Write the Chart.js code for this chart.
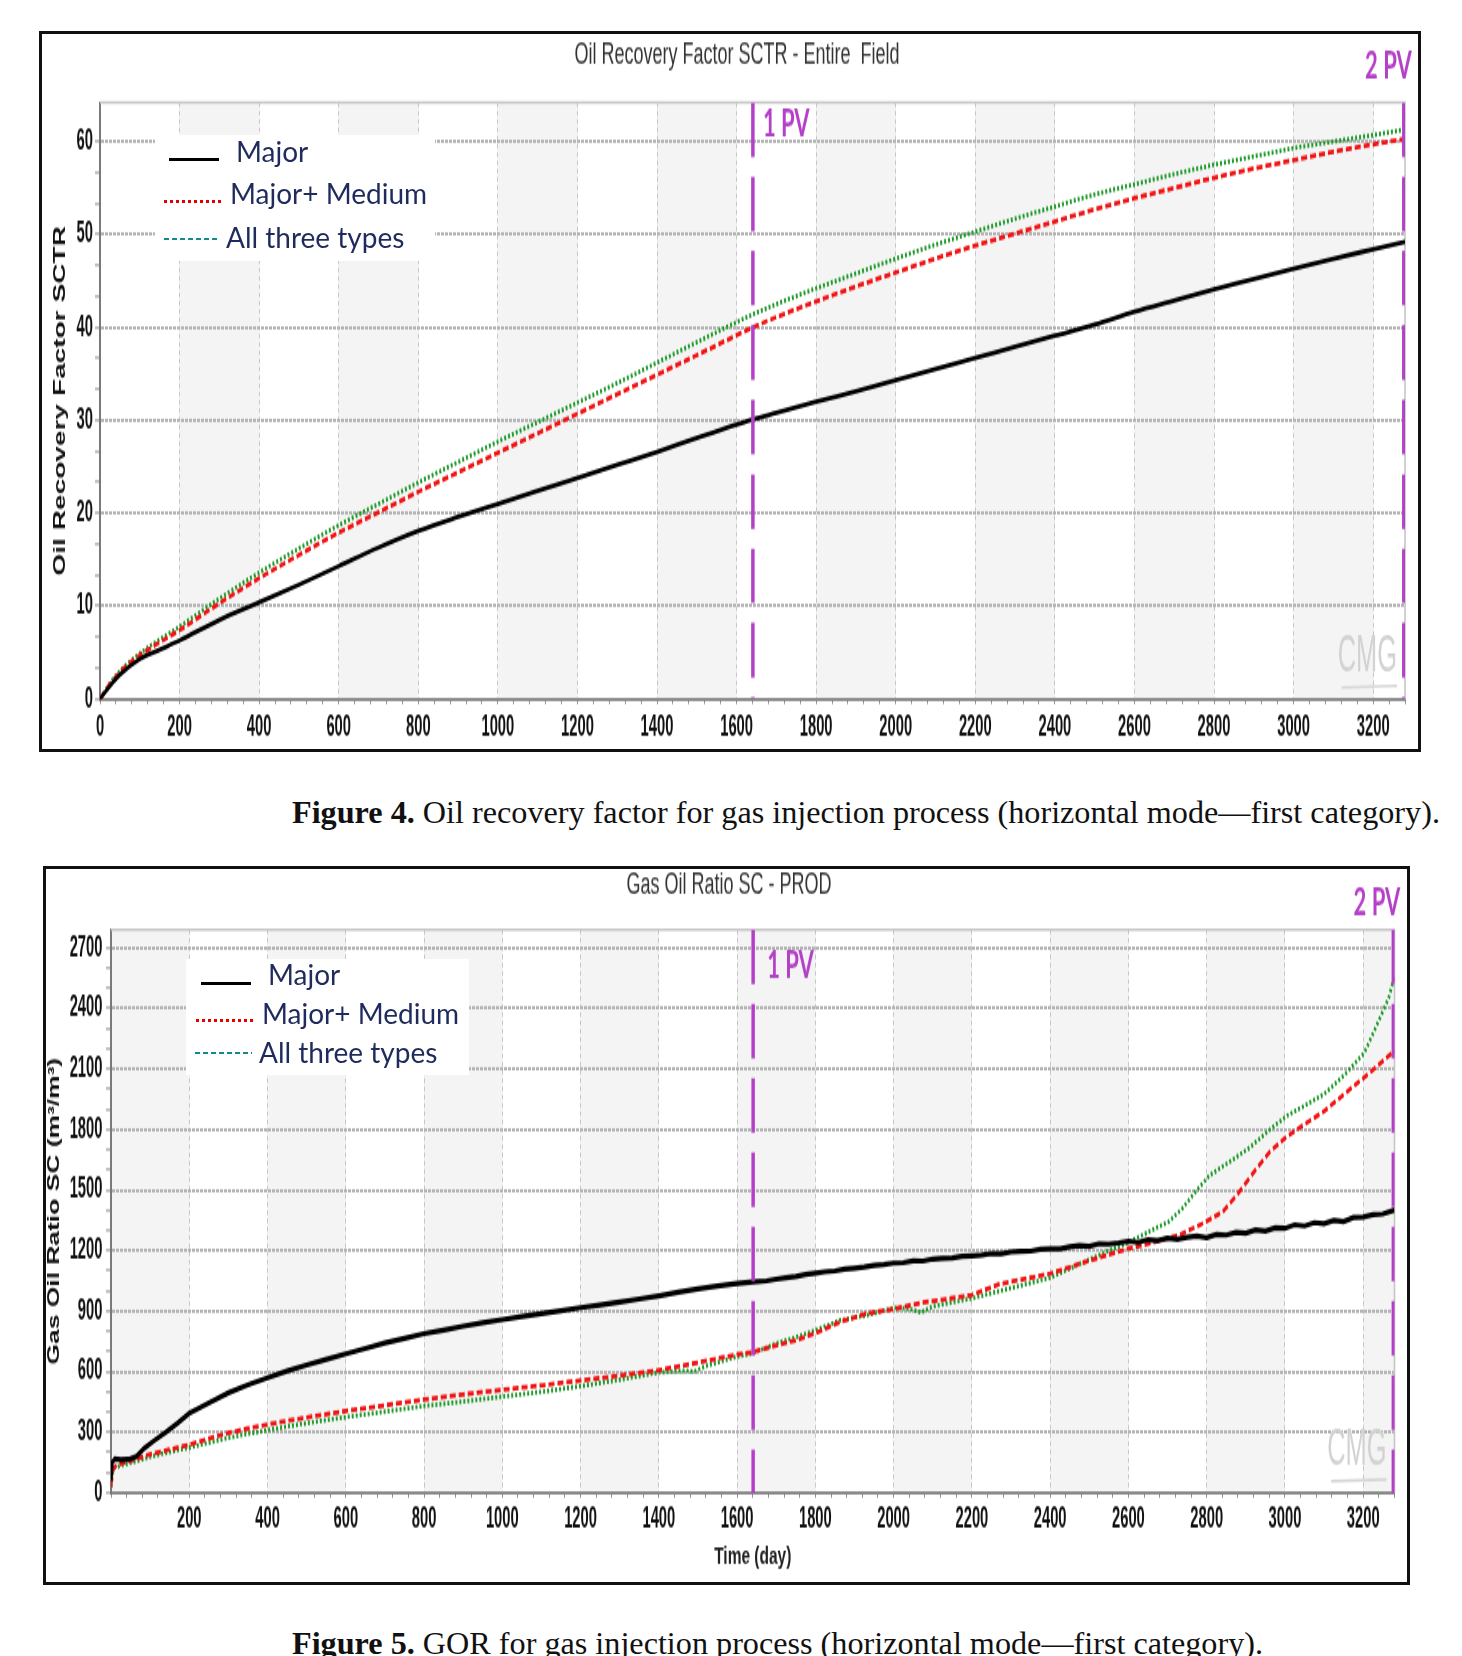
<!DOCTYPE html>
<html>
<head>
<meta charset="utf-8">
<script src="https://cdn.jsdelivr.net/npm/chart.js"></script>
<style>
  html, body { margin: 0; padding: 0; background: #fff; }
  body { position: relative; width: 1462px; height: 1656px; overflow: hidden; }
  .frame { position: absolute; border: 3px solid #111; box-sizing: border-box; }
  canvas { position: absolute; }
  /* the source figure is stretched vertically, so the canvases are too */
  #rf { left: 42px; top: 34px; width: 1390px !important; height: 715px !important; }
  #gor { left: 46px; top: 869px; width: 1366px !important; height: 713px !important; }
  .legend { position: absolute; background: #fff; }
  .legend .txt { position: absolute; font: 28px Lato, "Open Sans", sans-serif; color: #1f2b5c; line-height: 28px; white-space: nowrap; }
  .legend .smp { position: absolute; }
  .smp.solid { height: 3px; background: #000; }
  .smp.dots { height: 3px; background: repeating-linear-gradient(to right, #e00000 0 3px, transparent 3px 6px); }
  .smp.dash { height: 2px; background: repeating-linear-gradient(to right, #138a8a 0 5px, transparent 5px 8px); }
  .caption { position: absolute; left: 292px; font: 32.2px "Liberation Serif", "Times New Roman", serif; color: #111; white-space: nowrap; line-height: 32px; }
</style>
</head>
<body>

<div class="frame" style="left:39px; top:31px; width:1382px; height:721px;"></div>
<canvas id="rf" width="1390" height="433"></canvas>
<div class="legend" style="left:155px; top:135px; width:280px; height:126px;">
  <div class="smp solid" style="left:14px; top:23px; width:50px;"></div>
  <div class="txt" style="left:81px; top:2px;">Major</div>
  <div class="smp dots" style="left:9px; top:65px; width:57px;"></div>
  <div class="txt" style="left:75px; top:44px;">Major+ Medium</div>
  <div class="smp dash" style="left:9px; top:103px; width:55px;"></div>
  <div class="txt" style="left:71px; top:88px;">All three types</div>
</div>
<div class="caption" style="top:796px;"><b>Figure 4.</b> Oil recovery factor for gas injection process (horizontal mode—first category).</div>

<div class="frame" style="left:43px; top:866px; width:1367px; height:719px;"></div>
<canvas id="gor" width="1366" height="432"></canvas>
<div class="legend" style="left:186px; top:959px; width:283px; height:116px;">
  <div class="smp solid" style="left:15px; top:23px; width:50px;"></div>
  <div class="txt" style="left:82px; top:1px;">Major</div>
  <div class="smp dots" style="left:10px; top:60px; width:58px;"></div>
  <div class="txt" style="left:76px; top:40px;">Major+ Medium</div>
  <div class="smp dash" style="left:9px; top:93px; width:57px;"></div>
  <div class="txt" style="left:73px; top:79px;">All three types</div>
</div>
<div class="caption" style="top:1627px;"><b>Figure 5.</b> GOR for gas injection process (horizontal mode—first category).</div>

<script>
// ---- data (time in days) ----
const X_MAX = 3280;
const pvDays = [1641, 3277];
const pvLabels = ["1 PV", "2 PV"];

// Figure 4: oil recovery factor SCTR (%)
const rfMajor = [[0,0],[25,1.4],[50,2.6],[100,4.3],[150,5.3],[200,6.3],[300,8.5],[400,10.4],[500,12.3],[600,14.3],[700,16.3],[800,18.1],[900,19.6],[1000,21.0],[1100,22.4],[1200,23.8],[1300,25.2],[1400,26.6],[1500,28.1],[1641,30.1],[1700,30.8],[1800,32.0],[1900,33.1],[2000,34.3],[2100,35.5],[2200,36.7],[2300,37.9],[2400,39.1],[2500,40.3],[2600,41.7],[2700,42.9],[2800,44.1],[2900,45.2],[3000,46.3],[3100,47.4],[3200,48.4],[3280,49.2]];
const rfMedium = [[0,0],[25,1.6],[50,2.9],[100,4.7],[150,6.1],[200,7.4],[300,10.3],[400,13.0],[500,15.5],[600,17.9],[700,20.1],[800,22.3],[900,24.4],[1000,26.5],[1100,28.6],[1200,30.7],[1300,32.8],[1400,34.9],[1500,37.0],[1641,40.0],[1700,41.1],[1800,42.8],[1900,44.4],[2000,45.9],[2100,47.4],[2200,48.8],[2300,50.1],[2400,51.4],[2500,52.7],[2600,53.9],[2700,55.0],[2800,56.1],[2900,57.1],[3000,58.0],[3100,58.9],[3200,59.7],[3280,60.3]];
const rfAll = [[0,0],[25,1.7],[50,3.0],[100,4.9],[150,6.4],[200,7.8],[300,10.8],[400,13.6],[500,16.2],[600,18.7],[700,21.0],[800,23.3],[900,25.5],[1000,27.7],[1100,29.8],[1200,31.9],[1300,34.0],[1400,36.2],[1500,38.4],[1641,41.4],[1700,42.5],[1800,44.2],[1900,45.8],[2000,47.4],[2100,48.9],[2200,50.3],[2300,51.7],[2400,53.0],[2500,54.3],[2600,55.4],[2700,56.5],[2800,57.5],[2900,58.4],[3000,59.3],[3100,60.0],[3200,60.7],[3280,61.3]];

// Figure 5: gas oil ratio SC (m3/m3)
const gorMajor = [[0,60],[3,150],[10,168],[25,163],[45,165],[65,180],[85,220],[110,258],[140,300],[170,345],[200,393],[250,445],[300,495],[350,535],[400,570],[450,603],[500,633],[550,660],[600,688],[650,715],[700,742],[750,765],[800,788],[850,806],[900,825],[950,842],[1000,858],[1050,873],[1100,888],[1150,902],[1200,917],[1250,930],[1300,945],[1350,960],[1400,975],[1450,993],[1500,1010],[1550,1024],[1600,1036],[1641,1045],[1675,1050],[1700,1058],[1725,1066],[1750,1071],[1775,1081],[1800,1088],[1825,1095],[1850,1099],[1875,1108],[1900,1113],[1925,1118],[1950,1126],[1975,1130],[2000,1138],[2025,1140],[2050,1149],[2075,1148],[2100,1158],[2125,1161],[2150,1163],[2175,1171],[2200,1174],[2225,1177],[2250,1185],[2275,1184],[2300,1193],[2325,1196],[2350,1197],[2375,1206],[2400,1209],[2425,1208],[2450,1219],[2475,1224],[2500,1221],[2525,1234],[2550,1232],[2575,1238],[2600,1246],[2625,1240],[2650,1254],[2675,1249],[2700,1262],[2725,1255],[2750,1266],[2775,1271],[2800,1264],[2825,1280],[2850,1277],[2875,1290],[2900,1286],[2925,1302],[2950,1296],[2975,1313],[3000,1310],[3025,1328],[3050,1322],[3075,1338],[3100,1333],[3125,1349],[3150,1344],[3175,1364],[3200,1366],[3225,1378],[3250,1381],[3280,1400]];
const gorMedium = [[0,30],[4,105],[10,130],[30,148],[60,165],[100,190],[150,214],[200,238],[250,268],[300,296],[350,318],[400,338],[450,356],[500,373],[600,405],[700,433],[800,462],[900,487],[1000,510],[1100,532],[1200,556],[1300,580],[1400,607],[1500,645],[1600,685],[1641,697],[1700,730],[1750,755],[1800,790],[1864,847],[1932,888],[2000,910],[2068,940],[2145,962],[2200,980],[2272,1035],[2400,1085],[2500,1150],[2600,1210],[2660,1238],[2729,1276],[2790,1334],[2841,1392],[2884,1492],[2928,1608],[2962,1691],[3005,1765],[3048,1823],[3100,1890],[3160,1989],[3221,2088],[3280,2190]];
const gorAll = [[0,25],[4,95],[10,125],[30,138],[60,153],[100,178],[150,202],[200,224],[250,248],[300,272],[350,292],[400,310],[450,328],[500,345],[600,375],[700,402],[800,430],[900,452],[1000,476],[1100,500],[1200,528],[1300,560],[1400,596],[1470,605],[1490,600],[1520,628],[1600,675],[1641,692],[1700,740],[1750,770],[1800,805],[1864,855],[1932,880],[2000,916],[2040,912],[2070,893],[2102,925],[2197,962],[2272,1000],[2400,1065],[2505,1160],[2557,1205],[2600,1240],[2660,1301],[2703,1343],[2738,1409],[2772,1492],[2807,1572],[2859,1640],[2910,1710],[2962,1800],[3005,1868],[3048,1915],[3100,1975],[3152,2070],[3203,2180],[3231,2300],[3265,2450],[3280,2560]];

// axes
const rfXLabels = [0,200,400,600,800,1000,1200,1400,1600,1800,2000,2200,2400,2600,2800,3000,3200];
const gorXLabels = [200,400,600,800,1000,1200,1400,1600,1800,2000,2200,2400,2600,2800,3000,3200];
const rfYLabels = [0,10,20,30,40,50,60];
const gorYLabels = [0,300,600,900,1200,1500,1800,2100,2400,2700];
const rfBands = [200,600,1000,1400,1800,2200,2600,3000];
const gorBands = [0,400,800,1200,1600,2000,2400,2800,3200];

const MAGENTA = "#b540c8";
const ARIAL = "'Liberation Sans', Arial, sans-serif";
const LABEL_SQUEEZE = 0.82; // the source tick font is a narrow face

const toXY = (pairs) => pairs.map(([x, y]) => ({ x, y }));
const hasValue = (list, v) => list.some((m) => Math.abs(m - v) < 1e-6);
const stepTicks = (max, step) => {
  const out = [];
  for (let i = 0; i * step <= max + 1e-9; i++) out.push({ value: +(i * step).toFixed(4) });
  return out;
};

function squeezedText(ctx, text, x, y) {
  ctx.save();
  ctx.translate(x, y);
  ctx.scale(LABEL_SQUEEZE, 1);
  ctx.fillText(text, 0, 0);
  ctx.restore();
}

// background bands, plot frame, CMG mark, tick labels, PV labels
const plotDecor = {
  id: "plotDecor",
  beforeDraw(chart, args, o) {
    const { ctx, chartArea: a, scales: { x } } = chart;
    ctx.save();
    ctx.fillStyle = "#f4f4f4";
    o.bands.forEach((s) => {
      const x1 = x.getPixelForValue(s);
      const x2 = x.getPixelForValue(Math.min(s + 200, x.max));
      ctx.fillRect(x1, a.top, x2 - x1, a.bottom - a.top);
    });
    ctx.restore();
  },
  beforeDatasetsDraw(chart) {
    const { ctx, chartArea: a } = chart;
    ctx.save();
    ctx.strokeStyle = "#c6c6c6";
    ctx.lineWidth = 1.6;
    ctx.beginPath();
    ctx.moveTo(a.left, a.top);
    ctx.lineTo(a.right, a.top);
    ctx.lineTo(a.right, a.bottom);
    ctx.stroke();
    // CMG watermark
    ctx.fillStyle = "#d2d2d2";
    ctx.font = "31px " + ARIAL;
    ctx.textAlign = "right";
    ctx.textBaseline = "middle";
    squeezedText(ctx, "CMG", a.right - 8, a.bottom - 25);
    const w = ctx.measureText("CMG").width * LABEL_SQUEEZE;
    ctx.strokeStyle = "#d6d6d6";
    ctx.lineWidth = 1.6;
    ctx.beginPath();
    ctx.moveTo(a.right - 8 - w + 4, a.bottom - 7);
    ctx.lineTo(a.right - 8, a.bottom - 8);
    ctx.stroke();
    ctx.restore();
  },
  afterDraw(chart, args, o) {
    const { ctx, chartArea: a, scales: { x, y } } = chart;
    ctx.save();
    // tick labels
    ctx.fillStyle = "#111";
    ctx.font = "bold 18px " + ARIAL;
    ctx.textBaseline = "middle";
    ctx.textAlign = "center";
    o.xLabels.forEach((v) => squeezedText(ctx, String(v), x.getPixelForValue(v), a.bottom + o.xLabelDy));
    ctx.textAlign = "right";
    o.yLabels.forEach((v) => squeezedText(ctx, String(v), a.left - o.yLabelDx, y.getPixelForValue(v)));
    // PV marks
    ctx.fillStyle = MAGENTA;
    ctx.font = "bold 22px Lato, 'Open Sans', sans-serif";
    ctx.textAlign = "left";
    ctx.fillText(pvLabels[0], x.getPixelForValue(pvDays[0]) + o.pv1dx, a.top + o.pv1dy);
    ctx.textAlign = "right";
    ctx.fillText(pvLabels[1], x.getPixelForValue(pvDays[1]) + o.pv2dx, a.top - o.pv2dy);
    ctx.restore();
  },
};

function makeChart(id, s) {
  const datasets = [
    ...pvDays.map((d) => ({
      data: [{ x: d, y: s.yMax }, { x: d, y: 0 }],
      borderColor: MAGENTA, borderWidth: 3.5, borderDash: [33, 12], order: 0,
    })),
    { label: "Major", data: toXY(s.major), borderColor: "#000", borderWidth: s.majorWidth, order: 1 },
    { label: "Major+ Medium", data: toXY(s.medium), borderColor: "#f01414", borderWidth: 2.8, borderDash: [6, 3], order: 2 },
    { label: "All three types", data: toXY(s.all), borderColor: "#1f9a2a", borderWidth: 2.8, borderDash: [2, 2], order: 3 },
  ];
  datasets.forEach((d) => {
    d.pointRadius = 0;
    d.fill = false;
    d.cubicInterpolationMode = s.smooth ? "monotone" : "default";
    d.tension = 0;
  });

  return new Chart(document.getElementById(id), {
    type: "line",
    data: { datasets },
    plugins: [plotDecor],
    options: {
      responsive: false,
      animation: false,
      devicePixelRatio: 1,
      layout: { padding: { left: s.padLeft, right: s.padRight, top: 0, bottom: 0 } },
      plugins: {
        legend: { display: false },
        tooltip: { enabled: false },
        title: {
          display: true,
          text: s.title,
          color: "#333",
          font: { family: ARIAL, size: 18, weight: "normal", lineHeight: 1 },
          padding: s.titlePad,
        },
        plotDecor: {
          bands: s.bands, xLabels: s.xLabels, yLabels: s.yLabels,
          xLabelDy: s.xLabelDy, yLabelDx: s.yLabelDx,
          pv1dx: s.pv1dx, pv1dy: s.pv1dy, pv2dx: s.pv2dx, pv2dy: s.pv2dy,
        },
      },
      scales: {
        x: {
          type: "linear",
          min: 0,
          max: X_MAX,
          afterBuildTicks: (axis) => { axis.ticks = stepTicks(X_MAX, 40); },
          afterFit: (axis) => { axis.height = s.xHeight; },
          ticks: { display: false, autoSkip: false, maxRotation: 0 },
          grid: {
            color: (c) => (c.tick && c.tick.value > 0 && c.tick.value % 200 === 0 ? "#c4c4c4" : "rgba(0,0,0,0)"),
            lineWidth: 1,
            tickLength: 3,
            tickColor: "#888",
            tickWidth: 1,
          },
          border: { display: true, color: "#8a8a8a", width: 2, dash: [3, 2] },
          title: s.xTitle
            ? { display: true, text: s.xTitle, color: "#222", font: { family: ARIAL, size: 15.5, weight: "bold", lineHeight: 1 }, padding: { top: 0, bottom: 7.5 } }
            : { display: false },
        },
        y: {
          type: "linear",
          min: 0,
          max: s.yMax,
          afterBuildTicks: (axis) => { axis.ticks = stepTicks(s.yLabels[s.yLabels.length - 1], s.yMinor); },
          afterFit: (axis) => { axis.width = s.yWidth; },
          ticks: { display: false, autoSkip: false },
          grid: {
            color: (c) => (c.tick && c.tick.value > 0 && hasValue(s.yLabels, c.tick.value) ? "#b4b4b4" : "rgba(0,0,0,0)"),
            lineWidth: 1.9,
            tickLength: 5,
            tickColor: "#888",
            tickWidth: 1,
          },
          border: { display: true, color: "#7a7a7a", width: 2, dash: [3, 1] },
          title: {
            display: true,
            text: s.yTitle,
            color: "#111",
            font: { family: ARIAL, size: s.yTitleSize, weight: "bold", lineHeight: 1 },
            padding: { top: s.yTitlePad, bottom: 0 },
          },
        },
      },
    },
  });
}

makeChart("rf", {
  title: "Oil Recovery Factor SCTR - Entire  Field",
  yTitle: "Oil Recovery Factor SCTR",
  yTitleSize: 17,
  yTitlePad: -17.5,
  xTitle: null,
  major: rfMajor, medium: rfMedium, all: rfAll,
  majorWidth: 2.8,
  smooth: true,
  yMax: 64.2, yMinor: 10 / 3, yLabels: rfYLabels, xLabels: rfXLabels, bands: rfBands,
  padLeft: 27, yWidth: 31, xHeight: 30.3, padRight: 27,
  titlePad: { top: 3.7, bottom: 19.8 },
  xLabelDy: 17, yLabelDx: 7,
  pv1dx: 10, pv1dy: 13.5, pv2dx: 8, pv2dy: 21.7,
});

makeChart("gor", {
  title: "Gas Oil Ratio SC - PROD",
  yTitle: "Gas Oil Ratio SC (m³/m³)",
  yTitleSize: 16,
  yTitlePad: -16.5,
  xTitle: "Time (day)",
  major: gorMajor, medium: gorMedium, all: gorAll,
  majorWidth: 3.2,
  smooth: false,
  yMax: 2790, yMinor: 100, yLabels: gorYLabels, xLabels: gorXLabels, bands: gorBands,
  padLeft: 17.5, yWidth: 47.5, xHeight: 54.1, padRight: 17.5,
  titlePad: { top: 0.7, bottom: 18 },
  xLabelDy: 15.9, yLabelDx: 8.5,
  pv1dx: 14, pv1dy: 22.7, pv2dx: 7, pv2dy: 15.9,
});
</script>
</body>
</html>
